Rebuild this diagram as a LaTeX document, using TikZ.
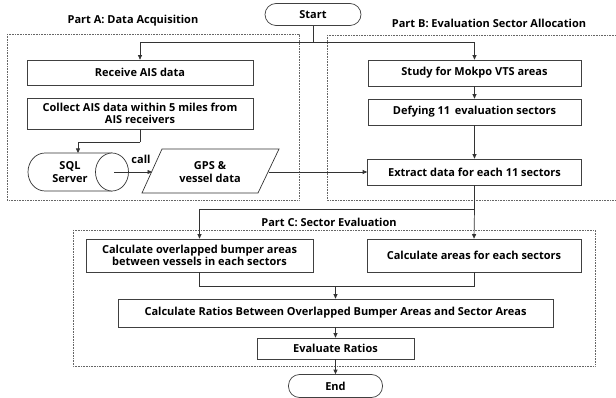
\documentclass[tikz,border=0pt]{standalone}
\usepackage{fontspec}
\setmainfont{Open Sans}
\usetikzlibrary{arrows.meta,positioning}
\tikzset{
  box/.style={draw=black!75, line width=0.7pt, fill=white, align=center, inner sep=1pt, font=\fontsize{11}{12.5}\selectfont\bfseries},
  term/.style={box, rounded corners=11pt},
  txt/.style={align=center, inner sep=0pt, font=\fontsize{11}{13}\selectfont\bfseries},
  part/.style={draw=black!60, line width=0.6pt, dash pattern=on 0.8pt off 0.8pt},
  conn/.style={draw=black!80, line width=0.7pt},
  arr/.style={conn, -{Triangle[length=4.5pt,width=4pt]}},
}
\begin{document}
\begin{tikzpicture}[x=1pt,y=-1pt]
\useasboundingbox (0,0) rectangle (616,398);
% part frames
\draw[part] (7,34) rectangle (299,200);
\draw[part] (327,35) -- (620,35);
\draw[part] (327,35) -- (327,200) -- (620,200);
\draw[part] (73,230) rectangle (595,366);
\node[txt] (tA) at (133,21) {Part A: Data Acquisition};
\node[txt] (tB) at (489,23) {Part B: Evaluation Sector Allocation};
\node[txt] (tC) at (329,222) {Part C: Sector Evaluation};
% nodes
\node[term, minimum width=96pt, minimum height=22pt] (start) at (313,14.5) {Start};
\node[box, minimum width=226pt, minimum height=25pt] (receive) at (140,72.5) {Receive AIS data};
\node[box, minimum width=226pt, minimum height=31pt] (collect) at (140,113.5) {Collect AIS data within 5 miles from\\AIS receivers};
% SQL cylinder
\draw[conn, fill=white] (112,153) -- (45,153) arc[start angle=270, end angle=90, x radius=17, y radius=19] -- (112,191);
\draw[conn, fill=white] (112,172) ellipse[x radius=16.5, y radius=19];
\node[txt] (sql) at (70,172) {SQL\\Server};
\coordinate (sqlc) at (114,172);
% GPS parallelogram
\draw[conn, fill=white] (162,149) -- (279,149) -- (258,193) -- (142,193) -- cycle;
\node[txt] (gps) at (210,172) {GPS \&\\vessel data};
\coordinate (gpsL) at (152,172);
\coordinate (gpsR) at (268.5,172);
\node[txt] (call) at (141,159) {call};
% part B
\node[box, minimum width=213pt, minimum height=26pt] (study) at (474.5,73) {Study for Mokpo VTS areas};
\node[box, minimum width=213pt, minimum height=26pt] (defy) at (474.5,112) {Defying 11\, evaluation sectors};
\node[box, minimum width=214pt, minimum height=26pt] (extract) at (474.5,172) {Extract data for each 11 sectors};
% part C
\node[box, minimum width=227pt, minimum height=33pt] (overlap) at (199.5,255.5) {Calculate overlapped bumper areas\\between vessels in each sectors};
\node[box, minimum width=214pt, minimum height=33pt] (areas) at (474,255.5) {Calculate areas for each sectors};
\node[box, minimum width=435pt, minimum height=28pt] (ratios) at (335.5,313) {Calculate Ratios Between Overlapped Bumper Areas and Sector Areas};
\node[box, minimum width=157pt, minimum height=21pt] (eval) at (335.5,348.5) {Evaluate Ratios};
\node[term, minimum width=94pt, minimum height=23pt] (end) at (335.5,386) {End};
% connectors
\coordinate (split) at (313,42);
\draw[conn] (start.south) -- (split);
\draw[arr] (split) -| (receive.north);
\draw[arr] (split) -| (study.north);
\coordinate (csplit) at (140,142);
\draw[conn] (collect.south) -- (csplit);
\draw[arr] (csplit) -| (78,153);
\draw[arr] (sqlc) -- (gpsL);
\draw[arr] (gpsR) -- (extract.west);
\draw[arr] (study) -- (defy);
\draw[arr] (defy) -- (extract);
\coordinate (esplit) at (474.5,209);
\draw[conn] (extract.south) -- (esplit);
\draw[arr] (esplit) -| (overlap.north);
\draw[arr] (esplit) -- (areas.north);
\coordinate (join) at (335.5,286);
\draw[conn] (overlap.south) |- (join);
\draw[conn] (areas.south) |- (join);
\draw[arr] (join) -- (ratios.north);
\draw[arr] (ratios) -- (eval);
\draw[arr] (eval) -- (end);
\end{tikzpicture}
\end{document}
